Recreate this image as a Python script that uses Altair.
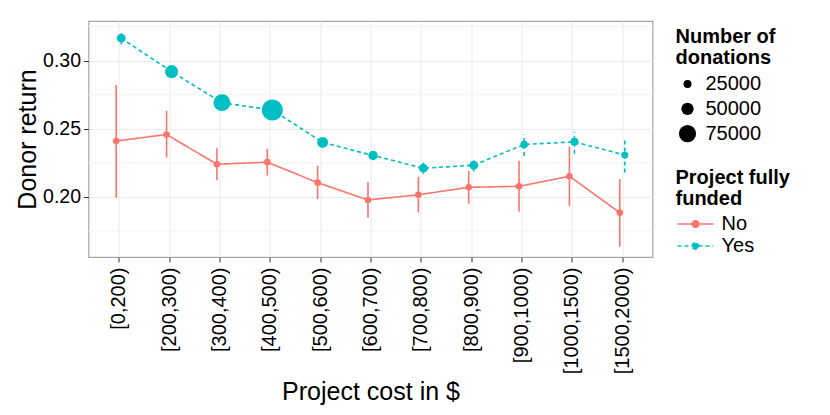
import json
import altair as alt
import pandas as pd

categories = ["[0,200)", "[200,300)", "[300,400)", "[400,500)", "[500,600)",
              "[600,700)", "[700,800)", "[800,900)", "[900,1000)",
              "[1000,1500)", "[1500,2000)"]

no_mean = [0.2410, 0.2458, 0.2240, 0.2255, 0.2105, 0.1978, 0.2016, 0.2071, 0.2078, 0.2152, 0.1885]
no_lo = [0.1995, 0.2289, 0.2123, 0.2157, 0.1985, 0.1848, 0.1887, 0.1951, 0.1892, 0.1934, 0.1635]
no_hi = [0.2821, 0.2632, 0.2358, 0.2353, 0.2230, 0.2110, 0.2148, 0.2193, 0.2265, 0.2370, 0.2132]

yes_mean = [0.3164, 0.2919, 0.2691, 0.2638, 0.2400, 0.2304, 0.2211, 0.2233, 0.2385, 0.2404, 0.2307]
yes_lo = [0.3118, 0.2895, 0.2675, 0.2625, 0.2385, 0.2284, 0.2170, 0.2186, 0.2301, 0.2316, 0.2179]
yes_hi = [0.3216, 0.2945, 0.2707, 0.2652, 0.2417, 0.2326, 0.2258, 0.2277, 0.2458, 0.2478, 0.2432]
yes_n = [30000, 54000, 74000, 94000, 42000, 34000, 30000, 30000, 22000, 26000, 18000]

groups = ["No", "Yes"]
colors = ["#F8766D", "#00BFC4"]
dashes = [[1, 0], [4, 3]]
major_breaks = [0.20, 0.25, 0.30]
minor_breaks = [0.175, 0.225, 0.275, 0.325]
size_breaks = [25000, 50000, 75000]

rows = []
for i, c in enumerate(categories):
    rows.append(dict(cat=c, idx=i, funded="No", mean=no_mean[i], lo=no_lo[i], hi=no_hi[i], n=None))
    rows.append(dict(cat=c, idx=i, funded="Yes", mean=yes_mean[i], lo=yes_lo[i], hi=yes_hi[i], n=yes_n[i]))
df = pd.DataFrame(rows)

FONT = "Liberation Sans"

label_expr = json.dumps(categories) + "[round(datum.value)]"

xscale = alt.Scale(domain=[-0.6, len(categories) - 0.4], nice=False, zero=False)
xaxis = alt.Axis(values=list(range(len(categories))), labelExpr=label_expr,
                 title="Project cost in $", labelAngle=270, labelFontSize=20,
                 labelPadding=5, labelOverlap=False, labelFlush=False,
                 titleY=142, titleBaseline="alphabetic")
yscale = alt.Scale(domain=[0.156, 0.329], nice=False, zero=False)
yaxis = alt.Axis(values=major_breaks, format=".2f", title="Donor return",
                 labelFontSize=19.5, labelPadding=3,
                 titleX=-53.5, titleY=118, titleAngle=270, titleBaseline="alphabetic",
                 titleAlign="center")

color_legend = alt.Legend(
    title=["Project fully", "funded"], orient="none", legendX=587, legendY=147,
    symbolType="M-2,0L2,0M-0.36,0A0.36,0.36,0,1,1,0.36,0A0.36,0.36,0,1,1,-0.36,0Z",
    symbolSize=324, symbolStrokeWidth=1.6, symbolOffset=10, labelOffset=16,
    rowPadding=2, symbolOpacity=1, titlePadding=5,
)
color_enc = alt.Color("funded:N", scale=alt.Scale(domain=groups, range=colors), legend=color_legend)
fill_enc = alt.Fill("funded:N", scale=alt.Scale(domain=groups, range=colors), legend=color_legend)
dash_enc = alt.StrokeDash("funded:N", scale=alt.Scale(domain=groups, range=dashes), legend=color_legend)

X = alt.X("xpos:Q", scale=xscale, axis=xaxis)

base = alt.Chart(df).transform_calculate(
    xpos="datum.idx + (datum.funded == 'No' ? -0.05 : 0.05)"
)

minor = alt.Chart(pd.DataFrame({"v": minor_breaks})).mark_rule(
    color="#f3f3f3", strokeWidth=1
).encode(y=alt.Y("v:Q", scale=yscale, axis=yaxis))

errbars = base.mark_rule(strokeWidth=1.6).encode(
    x=X,
    y=alt.Y("lo:Q", scale=yscale, axis=yaxis),
    y2="hi:Q",
    color=color_enc,
    strokeDash=dash_enc,
)

lines = base.mark_line(strokeWidth=1.6).encode(
    x=X,
    y=alt.Y("mean:Q", scale=yscale, axis=yaxis),
    color=color_enc,
    strokeDash=dash_enc,
    detail="funded:N",
)

pts_no = base.transform_filter("datum.funded == 'No'").mark_circle(
    size=44, opacity=1
).encode(
    x=X,
    y=alt.Y("mean:Q", scale=yscale, axis=yaxis),
    fill=fill_enc,
)

size_legend = alt.Legend(
    title=["Number of", "donations"], orient="none", legendX=587, legendY=6,
    values=size_breaks, format="d", symbolFillColor="black", symbolStrokeColor="black",
    symbolStrokeWidth=0, symbolOffset=2, labelOffset=8, rowPadding=4.8, symbolOpacity=1,
)

pts_yes = base.transform_filter("datum.funded == 'Yes'").mark_circle(
    opacity=1
).encode(
    x=X,
    y=alt.Y("mean:Q", scale=yscale, axis=yaxis),
    fill=fill_enc,
    size=alt.Size("n:Q", scale=alt.Scale(type="pow", exponent=2, domain=[25000, 75000],
                                          range=[64, 296], zero=False),
                  legend=size_legend),
)

chart = alt.layer(minor, errbars, lines, pts_no, pts_yes).properties(
    width=564, height=236,
    autosize=alt.AutoSizeParams(type="none"),
    padding={"left": 80.5, "top": 13, "right": 169, "bottom": 150},
).configure(
    font=FONT,
).configure_view(
    stroke="#a6a6a6", strokeWidth=1.2,
).configure_axis(
    domain=False, grid=True, gridColor="#ebebeb", gridWidth=1,
    tickColor="#333333", tickSize=5, tickWidth=1,
    labelColor="black", titleColor="black", titleFontSize=25, titleFontWeight="normal",
    labelFont=FONT, titleFont=FONT,
).configure_legend(
    titleFontSize=20, titleFontWeight="bold", titleColor="black", titleLineHeight=21,
    labelFontSize=20, labelColor="black", padding=0, titlePadding=6,
    labelFont=FONT, titleFont=FONT, symbolBaseFillColor="black",
)

chart.save("out.html", embed_options={"renderer": "svg", "actions": False})
